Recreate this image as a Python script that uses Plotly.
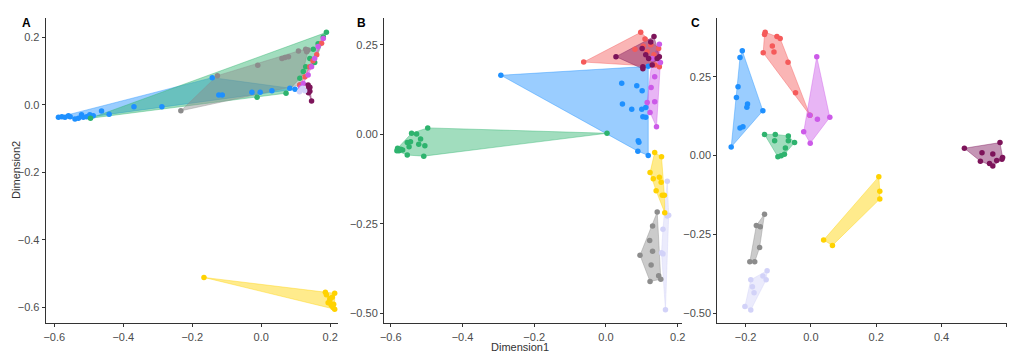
import plotly.graph_objects as go

# ---------------- data ----------------
groups = ["blue", "green", "gray", "red", "purple", "maroon", "lavender", "yellow"]
colors = {
    "blue": (30, 144, 255),
    "green": (46, 179, 110),
    "gray": (140, 140, 140),
    "red": (245, 90, 90),
    "purple": (204, 90, 232),
    "maroon": (125, 20, 90),
    "lavender": (210, 210, 248),
    "yellow": (255, 210, 0),
}

# Panel A
A_blue_x = [-0.588, -0.578, -0.569, -0.559, -0.554, -0.540, -0.530, -0.521, -0.516, -0.506, -0.497, -0.487,
            -0.463, -0.441, -0.369, -0.288, -0.142, -0.123, -0.113, -0.027, -0.003, 0.031, 0.083, 0.098]
A_blue_y = [-0.037, -0.036, -0.037, -0.033, -0.036, -0.042, -0.040, -0.030, -0.037, -0.036, -0.030, -0.033,
            -0.019, -0.028, -0.006, -0.006, 0.080, 0.029, 0.029, 0.037, 0.037, 0.041, 0.049, 0.046]
A_green_x = [-0.495, -0.012, 0.072, 0.189, 0.151, 0.141, 0.129, 0.122, 0.112, 0.155, 0.165, 0.180]
A_green_y = [-0.040, 0.022, 0.034, 0.214, 0.164, 0.137, 0.112, 0.098, 0.078, 0.125, 0.180, 0.200]
A_gray_x = [-0.233, -0.127, -0.010, 0.060, 0.069, 0.079, 0.108, 0.129, 0.136, 0.132, 0.112]
A_gray_y = [-0.018, 0.086, 0.117, 0.137, 0.140, 0.142, 0.159, 0.164, 0.162, 0.157, 0.058]
A_red_x = [0.161, 0.141, 0.127, 0.175, 0.112, 0.150]
A_red_y = [0.148, 0.112, 0.083, 0.182, 0.058, 0.130]
A_purple_x = [0.165, 0.155, 0.146, 0.136, 0.122, 0.180, 0.115]
A_purple_y = [0.172, 0.137, 0.112, 0.088, 0.063, 0.196, 0.051]
A_maroon_x = [0.136, 0.141, 0.136, 0.141, 0.137, 0.146]
A_maroon_y = [0.058, 0.052, 0.046, 0.040, 0.035, 0.011]
A_lavender_x = [0.117, 0.126, 0.111, 0.120]
A_lavender_y = [0.046, 0.041, 0.038, 0.049]
A_yellow_x = [-0.166, 0.186, 0.189, 0.213, 0.199, 0.206, 0.194, 0.203, 0.208, 0.213, 0.199, 0.210]
A_yellow_y = [-0.511, -0.555, -0.562, -0.558, -0.573, -0.570, -0.586, -0.593, -0.600, -0.605, -0.580, -0.590]

# Panel B
B_green_x = [-0.581, -0.577, -0.583, -0.572, -0.567, -0.554, -0.549, -0.554, -0.545, -0.542, -0.528, -0.522,
             -0.517, -0.508, -0.505, -0.497, 0.003]
B_green_y = [-0.039, -0.046, -0.046, -0.042, -0.044, -0.058, -0.035, -0.023, -0.021, 0.003, 0.001, -0.028,
             -0.013, -0.061, -0.032, 0.018, 0.003]
B_blue_x = [-0.293, 0.044, 0.086, 0.101, 0.046, 0.072, 0.100, 0.111, 0.103, 0.111, 0.090, 0.092, 0.089, 0.118, 0.118]
B_blue_y = [0.165, 0.143, 0.136, 0.122, 0.085, 0.070, 0.070, 0.075, 0.049, 0.048, -0.018, -0.022, -0.047, -0.059, 0.190]
B_red_x = [-0.062, 0.097, 0.109, 0.081, 0.104, 0.115, 0.125, 0.134, 0.149, 0.137, 0.147]
B_red_y = [0.202, 0.285, 0.266, 0.238, 0.246, 0.231, 0.250, 0.222, 0.189, 0.194, 0.240]
B_maroon_x = [0.028, 0.134, 0.125, 0.101, 0.111, 0.103, 0.103, 0.119, 0.143, 0.149, 0.129]
B_maroon_y = [0.217, 0.273, 0.258, 0.240, 0.222, 0.189, 0.183, 0.212, 0.212, 0.217, 0.194]
B_purple_x = [0.149, 0.152, 0.136, 0.126, 0.136, 0.115, 0.123, 0.141, 0.129]
B_purple_y = [0.252, 0.201, 0.161, 0.131, 0.091, 0.089, 0.061, 0.021, 0.212]
B_yellow_x = [0.136, 0.155, 0.123, 0.132, 0.149, 0.154, 0.140, 0.157, 0.163, 0.164]
B_yellow_y = [-0.051, -0.063, -0.107, -0.124, -0.120, -0.134, -0.158, -0.170, -0.170, -0.219]
B_lavender_x = [0.171, 0.171, 0.175, 0.159, 0.155, 0.159, 0.166]
B_lavender_y = [-0.131, -0.228, -0.226, -0.265, -0.331, -0.334, -0.490]
B_gray_x = [0.143, 0.130, 0.122, 0.130, 0.095, 0.126, 0.123, 0.147, 0.153]
B_gray_y = [-0.217, -0.256, -0.297, -0.327, -0.338, -0.365, -0.411, -0.395, -0.405]

# Panel C
C_blue_x = [-0.210, -0.217, -0.223, -0.228, -0.194, -0.196, -0.147, -0.217, -0.208, -0.244]
C_blue_y = [0.332, 0.311, 0.218, 0.184, 0.163, 0.153, 0.142, 0.087, 0.091, 0.027]
C_red_x = [-0.140, -0.142, -0.146, -0.118, -0.113, -0.104, -0.094, -0.070, -0.047, -0.003]
C_red_y = [0.391, 0.384, 0.326, 0.347, 0.328, 0.377, 0.371, 0.296, 0.199, 0.128]
C_purple_x = [0.018, -0.003, 0.020, 0.058, -0.022, -0.002]
C_purple_y = [0.313, 0.128, 0.115, 0.121, 0.075, 0.039]
C_green_x = [-0.142, -0.109, -0.111, -0.069, -0.069, -0.050, -0.078, -0.101, -0.091, -0.081]
C_green_y = [0.067, 0.067, 0.047, 0.062, 0.047, 0.041, 0.024, -0.004, -0.001, 0.004]
C_maroon_x = [0.470, 0.579, 0.524, 0.557, 0.519, 0.547, 0.557, 0.569, 0.585, 0.587]
C_maroon_y = [0.023, 0.041, 0.009, 0.005, -0.018, -0.025, -0.033, -0.016, -0.012, -0.006]
C_yellow_x = [0.208, 0.211, 0.211, 0.039, 0.066]
C_yellow_y = [-0.067, -0.113, -0.138, -0.268, -0.285]
C_gray_x = [-0.142, -0.167, -0.155, -0.157, -0.187, -0.172]
C_gray_y = [-0.186, -0.222, -0.226, -0.292, -0.337, -0.337]
C_lavender_x = [-0.134, -0.147, -0.137, -0.184, -0.179, -0.174, -0.202, -0.184]
C_lavender_y = [-0.365, -0.382, -0.394, -0.394, -0.416, -0.435, -0.479, -0.490]

panels = {
    "A": {"blue": (A_blue_x, A_blue_y), "green": (A_green_x, A_green_y), "gray": (A_gray_x, A_gray_y),
          "red": (A_red_x, A_red_y), "purple": (A_purple_x, A_purple_y), "maroon": (A_maroon_x, A_maroon_y),
          "lavender": (A_lavender_x, A_lavender_y), "yellow": (A_yellow_x, A_yellow_y)},
    "B": {"blue": (B_blue_x, B_blue_y), "green": (B_green_x, B_green_y), "gray": (B_gray_x, B_gray_y),
          "red": (B_red_x, B_red_y), "purple": (B_purple_x, B_purple_y), "maroon": (B_maroon_x, B_maroon_y),
          "lavender": (B_lavender_x, B_lavender_y), "yellow": (B_yellow_x, B_yellow_y)},
    "C": {"blue": (C_blue_x, C_blue_y), "green": (C_green_x, C_green_y), "gray": (C_gray_x, C_gray_y),
          "red": (C_red_x, C_red_y), "purple": (C_purple_x, C_purple_y), "maroon": (C_maroon_x, C_maroon_y),
          "lavender": (C_lavender_x, C_lavender_y), "yellow": (C_yellow_x, C_yellow_y)},
}

x_ticks = {"A": [-0.6, -0.4, -0.2, 0.0, 0.2], "B": [-0.6, -0.4, -0.2, 0.0, 0.2], "C": [-0.2, 0.0, 0.2, 0.4, 0.6]}
y_ticks = {"A": [0.2, 0.0, -0.2, -0.4, -0.6], "B": [0.25, 0.0, -0.25, -0.5], "C": [0.25, 0.0, -0.25, -0.5]}
x_fmt = {"A": ".1f", "B": ".1f", "C": ".1f"}
y_fmt = {"A": ".1f", "B": ".2f", "C": ".2f"}


def hull(xs, ys):
    pts = sorted(set(zip(xs, ys)))
    if len(pts) <= 2:
        return pts

    def cross(o, a, b):
        return (a[0] - o[0]) * (b[1] - o[1]) - (a[1] - o[1]) * (b[0] - o[0])

    lower, upper = [], []
    for p in pts:
        while len(lower) >= 2 and cross(lower[-2], lower[-1], p) <= 0:
            lower.pop()
        lower.append(p)
    for p in reversed(pts):
        while len(upper) >= 2 and cross(upper[-2], upper[-1], p) <= 0:
            upper.pop()
        upper.append(p)
    return lower[:-1] + upper[:-1]


W, H = 1011, 355
dom_x = {"A": [42 / W, 337 / W], "B": [383 / W, 683 / W], "C": [719 / W, 1.0]}
dom_y = [(H - 323.3) / H, (H - 18) / H]
x_range = {"A": [-0.625, 0.2236], "B": [-0.619, 0.211], "C": [-0.2865, 0.6005]}
y_range = {"A": [-0.6467, 0.2565], "B": [-0.528, 0.325], "C": [-0.532, 0.436]}

fig = go.Figure()
axis_ids = {"A": ("x", "y"), "B": ("x2", "y2"), "C": ("x3", "y3")}

for pname, pdata in panels.items():
    xa, ya = axis_ids[pname]
    for g in groups:
        xs, ys = pdata[g]
        r, gg, b = colors[g]
        h = hull(xs, ys)
        hx = [p[0] for p in h] + [h[0][0]]
        hy = [p[1] for p in h] + [h[0][1]]
        fig.add_trace(go.Scatter(x=hx, y=hy, mode="lines", fill="toself",
                                 fillcolor=f"rgba({r},{gg},{b},0.45)",
                                 line=dict(color=f"rgba({r},{gg},{b},0.5)", width=0.8),
                                 xaxis=xa, yaxis=ya, hoverinfo="skip", showlegend=False))
    for g in groups:
        xs, ys = pdata[g]
        r, gg, b = colors[g]
        fig.add_trace(go.Scatter(x=xs, y=ys, mode="markers",
                                 marker=dict(color=f"rgb({r},{gg},{b})", size=5.5),
                                 xaxis=xa, yaxis=ya, showlegend=False))

layout = dict(width=W, height=H, margin=dict(l=0, r=0, t=0, b=0),
              paper_bgcolor="white", plot_bgcolor="white",
              font=dict(family="Liberation Sans, Arial, sans-serif", size=11, color="#333333"))

for i, pname in enumerate(["A", "B", "C"]):
    sfx = "" if i == 0 else str(i + 1)
    common = dict(showgrid=False, zeroline=False, showline=True, linecolor="#333333", linewidth=1,
                  ticks="outside", ticklen=3, tickwidth=1, tickcolor="#333333",
                  tickfont=dict(size=11, color="#4D4D4D"))
    layout["xaxis" + sfx] = dict(common, domain=dom_x[pname], range=x_range[pname],
                                 tickvals=x_ticks[pname], tickformat=x_fmt[pname],
                                 anchor="y" + sfx)
    layout["yaxis" + sfx] = dict(common, domain=dom_y, range=y_range[pname],
                                 tickvals=y_ticks[pname], tickformat=y_fmt[pname],
                                 anchor="x" + sfx)

fig.update_layout(**layout)

annots = [
    dict(text="<b>A</b>", x=23 / W, y=(H - 23) / H),
    dict(text="<b>B</b>", x=360 / W, y=(H - 23) / H),
    dict(text="<b>C</b>", x=697 / W, y=(H - 23) / H),
]
for a in annots:
    fig.add_annotation(text=a["text"], x=a["x"], y=a["y"], xref="paper", yref="paper",
                       showarrow=False, xanchor="center", yanchor="middle",
                       font=dict(size=12, color="black"))
fig.add_annotation(text="Dimension2", x=12 / W, y=(H - 170) / H, xref="paper", yref="paper",
                   showarrow=False, textangle=-90, xanchor="center", yanchor="middle",
                   font=dict(size=11, color="#333333"))
fig.add_annotation(text="Dimension1", x=520 / W, y=(H - 347) / H, xref="paper", yref="paper",
                   showarrow=False, xanchor="center", yanchor="middle",
                   font=dict(size=11, color="#333333"))

fig.write_html("out.html", config={"displayModeBar": False},
               post_script="document.body.style.margin='0';document.body.style.overflow='hidden';")
